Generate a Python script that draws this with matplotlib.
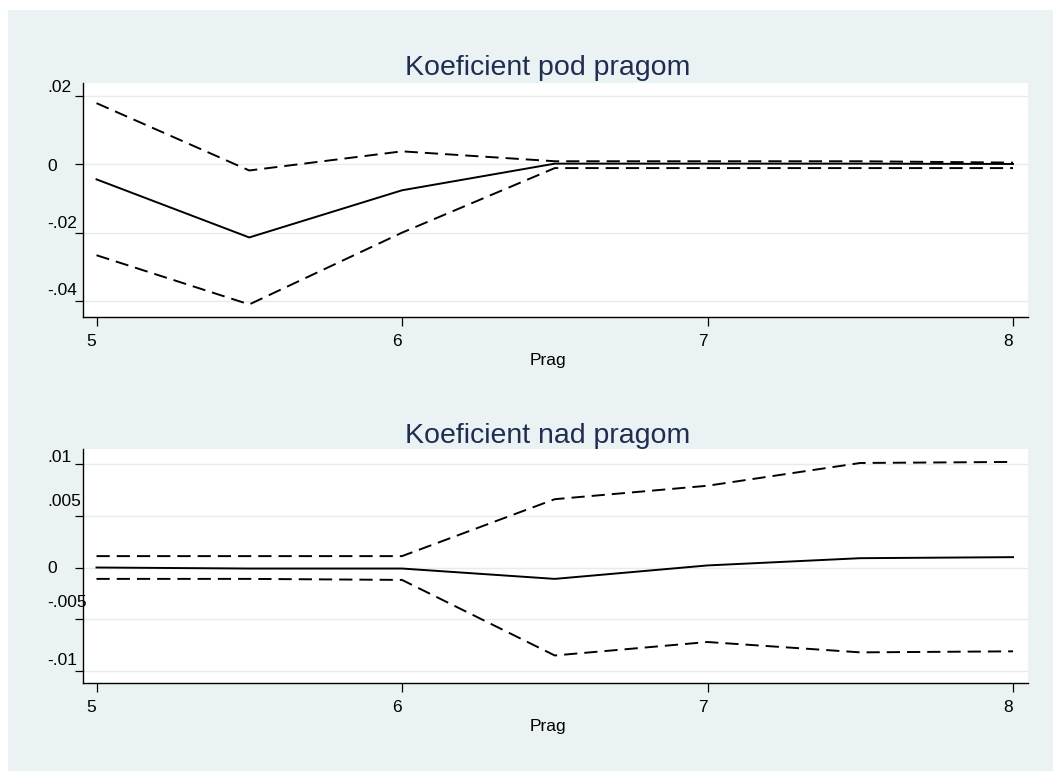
import numpy as np
import matplotlib
matplotlib.use("Agg")
import matplotlib.pyplot as plt
import matplotlib.transforms as mtransforms
from matplotlib.patches import Rectangle

plt.rcParams["font.family"] = ["Liberation Sans", "DejaVu Sans"]

# threshold grid and estimates
prag = [5, 5.5, 6, 6.5, 7, 7.5, 8]

pod_coef = [-0.0044, -0.0214, -0.0076, 0.0002, 0.0002, 0.0002, 0.0001]
pod_hi = [0.0179, -0.0018, 0.0038, 0.0009, 0.0009, 0.0009, 0.0005]
pod_lo = [-0.0266, -0.0410, -0.0200, -0.0011, -0.0011, -0.0011, -0.0011]

nad_coef = [0.0000, -0.0001, -0.0001, -0.0011, 0.0002, 0.0009, 0.0010]
nad_hi = [0.0011, 0.0011, 0.0011, 0.0066, 0.0079, 0.0101, 0.0102]
nad_lo = [-0.0011, -0.0011, -0.0012, -0.0085, -0.0072, -0.0082, -0.0081]

pod_yticks = [0.02, 0, -0.02, -0.04]
pod_ylabels = [".02", "0", "-.02", "-.04"]
nad_yticks = [0.01, 0.005, 0, -0.005, -0.01]
nad_ylabels = [".01", ".005", "0", "-.005", "-.01"]
xticks = [5, 6, 7, 8]

W, H = 1053, 771
BG = "#EAF2F3"
GRID = "#E3ECEF"
TITLE = "#1F2E50"

fig = plt.figure(figsize=(W / 100, H / 100), dpi=100, facecolor="white")
fig.patches.append(Rectangle((8 / W, 0), 1 - 8 / W, 1 - 10 / H,
                             transform=fig.transFigure, facecolor=BG,
                             edgecolor="none", zorder=-10))


def px(x, y):
    return x / W, 1 - y / H


def panel(left, top, right, bottom, ylim, yticks, ylabels, label_dy,
          coef, hi, lo, title, title_base, xlab_base):
    x0, y1 = px(left, top)
    x1, y0 = px(right, bottom)
    ax = fig.add_axes([x0, y0, x1 - x0, y1 - y0])
    ax.set_facecolor("white")
    ax.set_xlim(4.9558, 8.049)
    ax.set_ylim(*ylim)
    for s in ["top", "right"]:
        ax.spines[s].set_visible(False)
    for s in ["left", "bottom"]:
        ax.spines[s].set_linewidth(1.0)
        ax.spines[s].set_color("black")
    ax.set_xticks(xticks)
    ax.set_yticks(yticks)
    ax.set_xticklabels([])
    ax.set_yticklabels([])
    ax.tick_params(axis="x", length=6.5, width=0.9, direction="out")
    ax.tick_params(axis="y", length=5.5, width=0.9, direction="out")
    for yv in yticks:
        ax.axhline(yv, color=GRID, lw=1.0, zorder=0)

    ax.plot(prag, coef, color="black", lw=1.4, zorder=3)
    for band in (hi, lo):
        ln, = ax.plot(prag, band, color="black", lw=1.4, zorder=3)
        ln.set_dashes((6.8, 3.6))

    # y labels sit left-aligned in the outer margin
    ytr = mtransforms.blended_transform_factory(fig.transFigure, ax.transData)
    for yv, lab, dy in zip(yticks, ylabels, label_dy):
        off = mtransforms.ScaledTranslation(0, dy / 100, fig.dpi_scale_trans)
        ax.text(47 / W, yv, lab, transform=ytr + off, ha="left",
                va="center", fontsize=12.5, color="black", clip_on=False)

    xtr = mtransforms.blended_transform_factory(ax.transData, fig.transFigure)
    for xv in xticks:
        off = mtransforms.ScaledTranslation(-5 / 100, 0, fig.dpi_scale_trans)
        ax.text(xv, 1 - (bottom + 29) / H, str(xv), transform=xtr + off,
                ha="center", va="baseline", fontsize=12.5, color="black",
                clip_on=False)

    fig.text(548 / W, 1 - xlab_base / H, "Prag", ha="center",
             va="baseline", fontsize=12.5, color="black")
    fig.text(548 / W, 1 - title_base / H, title, ha="center",
             va="baseline", fontsize=20.5, color=TITLE)
    return ax


panel(83, 83, 1028, 317, (-0.04468, 0.0238), pod_yticks, pod_ylabels,
      [8, -2.5, 9.5, 11], pod_coef, pod_hi, pod_lo,
      "Koeficient pod pragom", 75, 365)

panel(83, 449, 1028, 683, (-0.01116, 0.01145), nad_yticks, nad_ylabels,
      [6.5, 14.5, -0.5, 16.5, 10], nad_coef, nad_hi, nad_lo,
      "Koeficient nad pragom", 443, 731)

fig.savefig("out.png", dpi=100, facecolor=fig.get_facecolor())
